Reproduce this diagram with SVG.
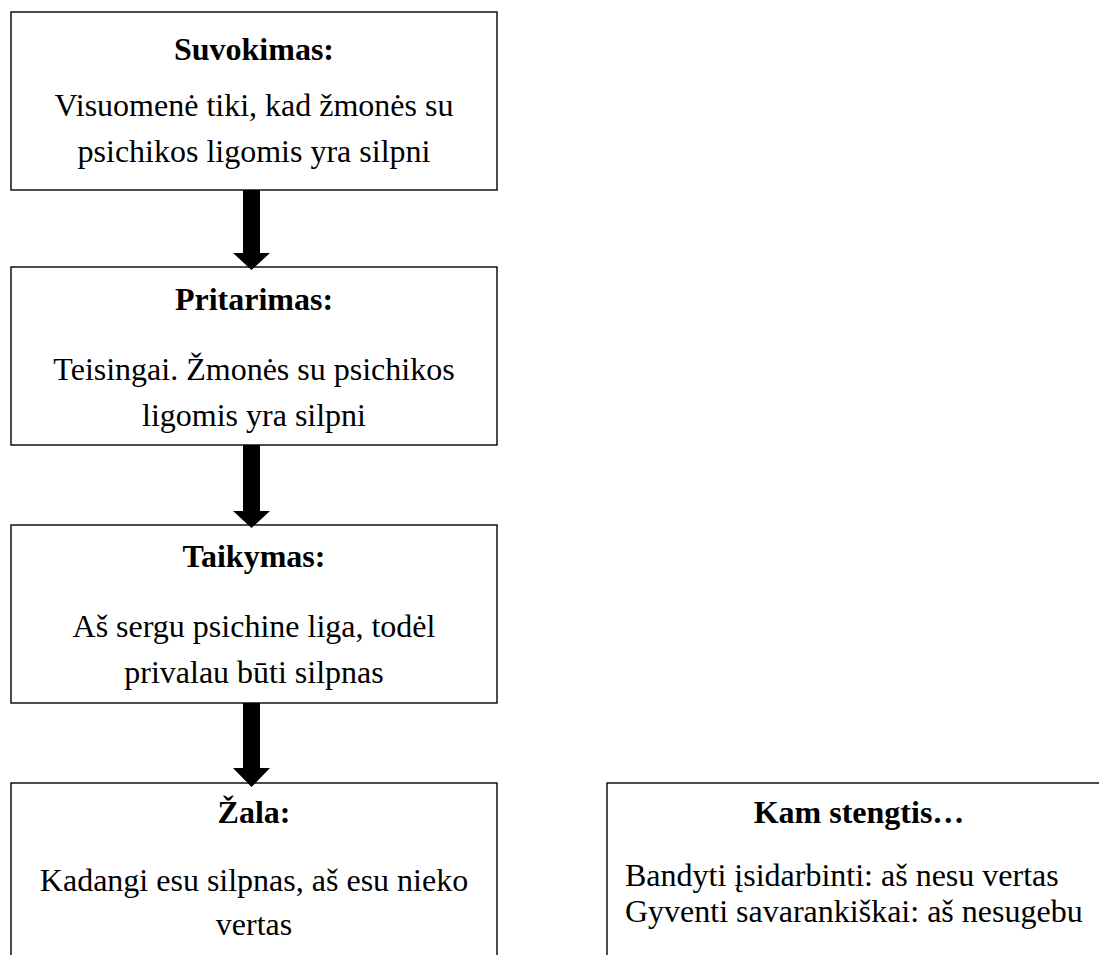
<svg xmlns="http://www.w3.org/2000/svg" width="1099" height="955" viewBox="0 0 1099 955">
<style>
.box{fill:#fff;stroke:#000;stroke-width:1.4}
.t{font-family:"Liberation Serif","Times New Roman",serif;font-size:32px;fill:#000}
.h{font-weight:bold}
.c{text-anchor:middle}
.arr{fill:#000;stroke:none}
</style>
<rect width="1099" height="955" fill="#fff"/>
<g id="n1">
<rect class="box" x="11" y="12" width="486" height="178"/>
<text class="t h c" x="254" y="60">Suvokimas:</text>
<text class="t c" x="254" y="116">Visuomenė tiki, kad žmonės su</text>
<text class="t c" x="254" y="162">psichikos ligomis yra silpni</text>
</g>
<g id="n2">
<rect class="box" x="11" y="267" width="486" height="178"/>
<text class="t h c" x="254" y="310">Pritarimas:</text>
<text class="t c" x="254" y="380">Teisingai. Žmonės su psichikos</text>
<text class="t c" x="254" y="426">ligomis yra silpni</text>
</g>
<g id="n3">
<rect class="box" x="11" y="525" width="486" height="178"/>
<text class="t h c" x="254" y="567">Taikymas:</text>
<text class="t c" x="254" y="637">Aš sergu psichine liga, todėl</text>
<text class="t c" x="254" y="683">privalau būti silpnas</text>
</g>
<g id="n4">
<rect class="box" x="11" y="783" width="486" height="190"/>
<text class="t h c" x="254" y="823">Žala:</text>
<text class="t c" x="254" y="891">Kadangi esu silpnas, aš esu nieko</text>
<text class="t c" x="254" y="935">vertas</text>
</g>
<g id="n5">
<rect class="box" x="607" y="783" width="505" height="190"/>
<text class="t h c" x="859" y="823">Kam stengtis…</text>
<text class="t" x="625" y="886">Bandyti įsidarbinti: aš nesu vertas</text>
<text class="t" x="625" y="922">Gyventi savarankiškai: aš nesugebu</text>
</g>
<g id="connectors">
<polygon class="arr" points="243,190 260,190 260,253 270,253 251.5,270 233,253 243,253"/>
<polygon class="arr" points="243,445 260,445 260,511 270,511 251.5,528 233,511 243,511"/>
<polygon class="arr" points="243,703 260,703 260,768 270,768 251.5,787 233,768 243,768"/>
</g>
</svg>
